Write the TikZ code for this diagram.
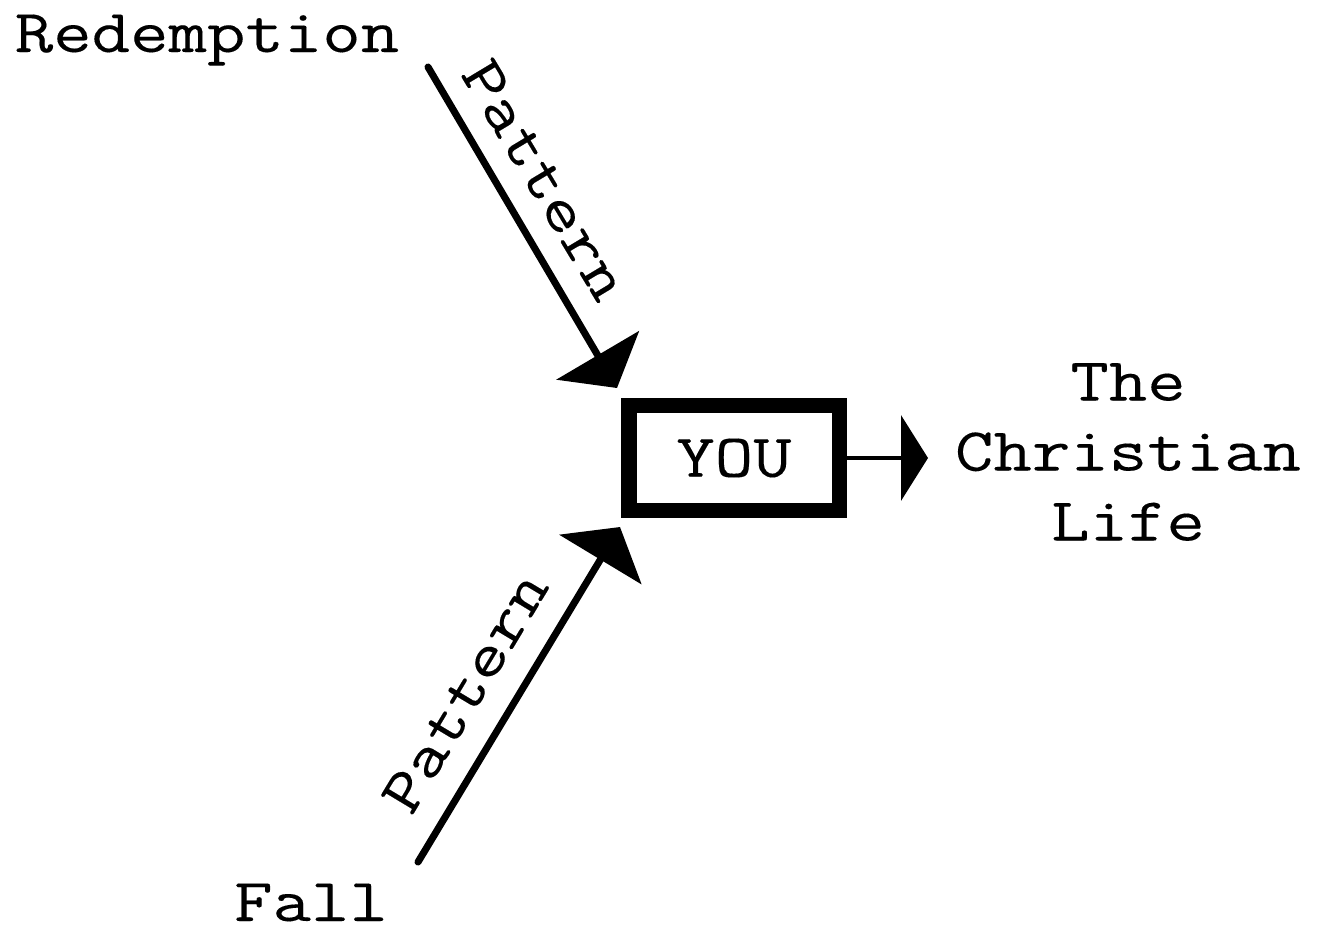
\documentclass[tikz,border=0pt]{standalone}
\usepackage{fontspec}
\setmainfont{Latin Modern Mono}[FakeStretch=1.22, FakeBold=0.2]
\usetikzlibrary{arrows.meta}
\tikzset{
	label text/.style={font=\fontsize{17.4}{19.9}\selectfont, inner sep=0pt},
	pattern arrow/.style={line width=2pt, line cap=round, -{Triangle[width=0.95cm, length=0.38cm]}},
	you box/.style={draw, line width=4.3pt, minimum width=2.1cm, minimum height=1.05cm, inner sep=0pt}
}

\begin{document}
\begin{tikzpicture}[x=0.01cm, y=-0.01cm]
		%%%%% START %%%%%
		\useasboundingbox (0, 0) rectangle (1325, 927);
		
		\node[label text, anchor=base] (redemption) at (207, 52) {Redemption};
		\node[label text, anchor=base] (fall) at (311, 921) {Fall};
		
		\node[you box, label text] (you) at (734, 458) {YOU};
		\node[label text, align=center] (life) at (1128, 452) {The\\Christian\\Life};
		
		\coordinate (redstart) at (428, 67);
		\coordinate (redtip) at (617, 388);
		\coordinate (fallstart) at (418, 862);
		\coordinate (falltip) at (620, 527);
		\coordinate (lifetip) at (928, 458);
		
		\draw[pattern arrow] (redstart) -- (redtip);
		\draw[pattern arrow] (fallstart) -- (falltip);
		\draw[line width=1.4pt, -{Triangle[width=0.85cm, length=0.27cm]}] (you.east) -- (lifetip);
		
		\node[label text, rotate=-59] (redpattern) at (545, 180) {Pattern};
		\node[label text, rotate=59] (fallpattern) at (465, 692) {Pattern};
		%%%%% END %%%%%
	\end{tikzpicture}
\end{document}
